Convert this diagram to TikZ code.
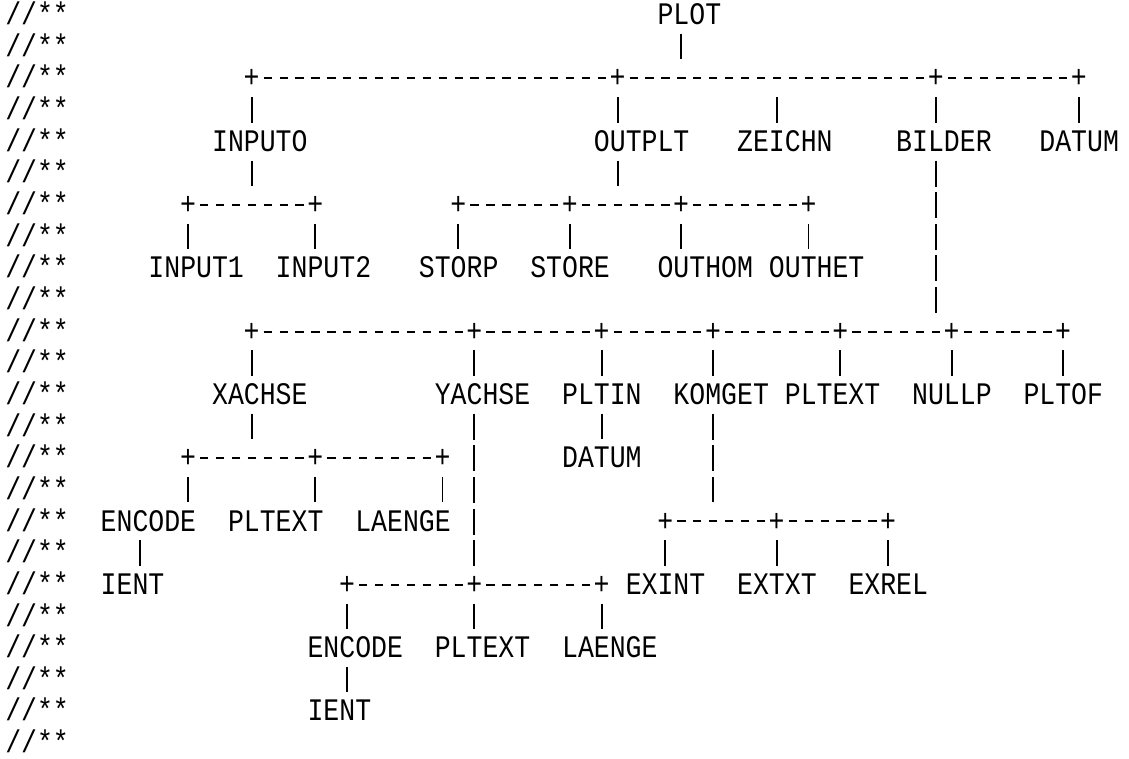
\documentclass[tikz,border=0pt]{standalone}
\usepackage{fontspec}
\newfontfamily\prnfont[FakeStretch=0.846]{Liberation Mono}
\usepackage{tikz}
\usetikzlibrary{calc}
\tikzset{
    every picture/.style={line cap=round,line join=round},
    lbl/.style={anchor=west,inner xsep=0pt,inner ysep=6.74pt,
      text height=14.5pt,text depth=0pt,text=black,
      font={\prnfont\fontsize{23.5}{27}\selectfont}},
    plusnode/.style={lbl,anchor=center,minimum width=11.9325pt},
    dashpt/.style={plusnode},
    hline/.style={draw=black,line width=1.5pt,line cap=butt,
      dash pattern=on 6.2pt off 5.7325pt,dash phase=9.07pt},
    vbar/.style={draw=black,line width=1.45pt,line cap=butt,
      dash pattern=on 19.5pt off 4.2375pt}
}

\begin{document}
\begin{tikzpicture}[x=11.9325pt,y=-23.7375pt]
    \path[use as bounding box,fill=white] (-0.314,-0.474) rectangle (70.647,23.476);
    % comment column
    \foreach \r in {0,...,23}
        \node[lbl] (cm\r) at (0,\r) {//**};
    % root and first line
    \node[lbl] (plot) at (41,0) {PLOT};
    \node[plusnode] (tIn) at (15.5,2) {+};
    \node[plusnode] (tOut) at (38.5,2) {+};
    \node[dashpt] (tPlot) at (42.5,2) {};
    \node[dashpt] (tZei) at (48.5,2) {};
    \node[plusnode] (tBil) at (58.5,2) {+};
    \node[plusnode] (tDat) at (67.5,2) {+};
    \node[lbl] (inputo) at (13,4) {INPUTO};
    \node[lbl] (outplt) at (37,4) {OUTPLT};
    \node[lbl] (zeichn) at (46,4) {ZEICHN};
    \node[lbl] (bilder) at (56,4) {BILDER};
    \node[lbl] (datum) at (65,4) {DATUM};
    % INPUTO and OUTPLT
    \node[plusnode] (iA) at (11.5,6) {+};
    \node[dashpt] (iIn) at (15.5,6) {};
    \node[plusnode] (iB) at (19.5,6) {+};
    \node[plusnode] (oA) at (28.5,6) {+};
    \node[plusnode] (oB) at (35.5,6) {+};
    \node[dashpt] (oOut) at (38.5,6) {};
    \node[plusnode] (oC) at (42.5,6) {+};
    \node[plusnode] (oD) at (50.5,6) {+};
    \node[lbl] (inputa) at (9,8) {INPUT1};
    \node[lbl] (inputb) at (17,8) {INPUT2};
    \node[lbl] (storp) at (26,8) {STORP};
    \node[lbl] (store) at (33,8) {STORE};
    \node[lbl] (outhom) at (41,8) {OUTHOM};
    \node[lbl] (outhet) at (48,8) {OUTHET};
    % BILDER
    \node[plusnode] (bX) at (15.5,10) {+};
    \node[plusnode] (bY) at (29.5,10) {+};
    \node[plusnode] (bPin) at (37.5,10) {+};
    \node[plusnode] (bKom) at (44.5,10) {+};
    \node[plusnode] (bPtx) at (52.5,10) {+};
    \node[dashpt] (bBil) at (58.5,10) {};
    \node[plusnode] (bNul) at (59.5,10) {+};
    \node[plusnode] (bPof) at (66.5,10) {+};
    \node[lbl] (xachse) at (13,12) {XACHSE};
    \node[lbl] (yachse) at (27,12) {YACHSE};
    \node[lbl] (pltin) at (35,12) {PLTIN};
    \node[lbl] (komget) at (42,12) {KOMGET};
    \node[lbl] (pltext) at (49,12) {PLTEXT};
    \node[lbl] (nullp) at (57,12) {NULLP};
    \node[lbl] (pltof) at (64,12) {PLTOF};
    % XACHSE, PLTIN, KOMGET
    \node[plusnode] (xA) at (11.5,14) {+};
    \node[dashpt] (xX) at (15.5,14) {};
    \node[plusnode] (xB) at (19.5,14) {+};
    \node[plusnode] (xC) at (27.5,14) {+};
    \node[lbl] (pdatum) at (35,14) {DATUM};
    \node[lbl] (xencode) at (6,16) {ENCODE};
    \node[lbl] (xpltext) at (14,16) {PLTEXT};
    \node[lbl] (xlaenge) at (22,16) {LAENGE};
    \node[plusnode] (kA) at (41.5,16) {+};
    \node[dashpt] (kK) at (44.5,16) {};
    \node[plusnode] (kB) at (48.5,16) {+};
    \node[plusnode] (kC) at (55.5,16) {+};
    \node[lbl] (xient) at (6,18) {IENT};
    \node[lbl] (exint) at (39,18) {EXINT};
    \node[lbl] (extxt) at (46,18) {EXTXT};
    \node[lbl] (exrel) at (53,18) {EXREL};
    % YACHSE
    \node[plusnode] (yA) at (21.5,18) {+};
    \node[plusnode] (yB) at (29.5,18) {+};
    \node[plusnode] (yC) at (37.5,18) {+};
    \node[lbl] (yencode) at (19,20) {ENCODE};
    \node[lbl] (ypltext) at (27,20) {PLTEXT};
    \node[lbl] (ylaenge) at (35,20) {LAENGE};
    \node[lbl] (yient) at (19,22) {IENT};
    % dashed rows
    \foreach \a/\b in {tIn/tOut,tOut/tBil,tBil/tDat,iA/iB,oA/oB,oB/oC,oC/oD,
        bX/bY,bY/bPin,bPin/bKom,bKom/bPtx,bPtx/bNul,bNul/bPof,
        xA/xB,xB/xC,kA/kB,kB/kC,yA/yB,yB/yC}
        \draw[hline] (\a.east) -- (\b.west);
    % bars down to the names
    \foreach \jn/\nm in {tIn/inputo,tOut/outplt,tZei/zeichn,tBil/bilder,tDat/datum,
        iA/inputa,iB/inputb,oA/storp,oB/store,oC/outhom,oD/outhet,
        bX/xachse,bY/yachse,bPin/pltin,bKom/komget,bPtx/pltext,bNul/nullp,bPof/pltof,
        xA/xencode,xB/xpltext,xC/xlaenge,kA/exint,kB/extxt,kC/exrel,
        yA/yencode,yB/ypltext,yC/ylaenge}
        \draw[vbar] (\jn.south) -- (\jn.south |- \nm.north);
    % bars from the names down to their rows
    \foreach \nm/\jn in {plot/tPlot,inputo/iIn,outplt/oOut,bilder/bBil,
        xachse/xX,yachse/yB,komget/kK}
        \draw[vbar] (\nm.south -| \jn.north) -- (\jn.north);
    \draw[vbar] ($(xencode.south west)+(2.5,0)$) -- ($(xient.north west)+(2.5,0)$);
    \draw[vbar] (pltin.south) -- (pdatum.north);
    \draw[vbar] ($(yencode.south west)+(2.5,0)$) -- ($(yient.north west)+(2.5,0)$);
\end{tikzpicture}
\end{document}
